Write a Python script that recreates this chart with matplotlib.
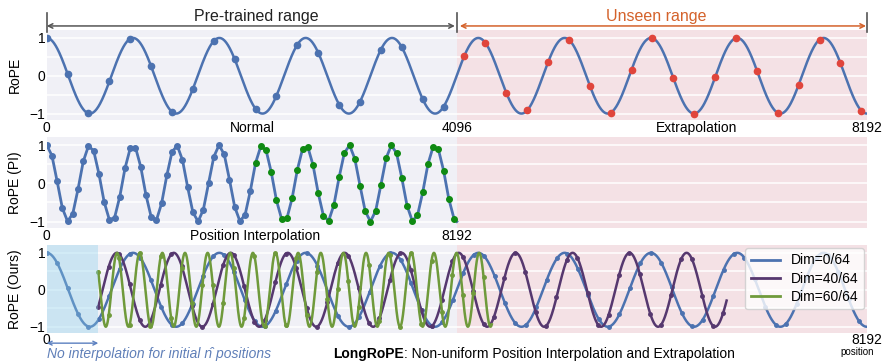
import numpy as np
import matplotlib
matplotlib.use("Agg")
import matplotlib.pyplot as plt

plt.rcParams['font.family'] = ['Liberation Sans', 'DejaVu Sans']

# ---- values ----
ctx_len = 8192          # extended context
train_len = 4096        # pre-trained context
rope_period = 862       # period of the plotted RoPE curve, in positions
top_dot_step = 208.6    # spacing of the dots on the top curve
n_top_dots = 40
pi_dot_step = 104.3     # spacing of the dots on the PI curve
n_pi_dots = 79
ours_dot_step = 104
n_hat = 515             # first positions kept without interpolation

ours_names = ['Dim=0/64', 'Dim=40/64', 'Dim=60/64']
ours_colors = ['#4C72B0', '#56386F', '#6F9A3B']
ours_start = [0, 515, 515]
ours_end = [8192, 6790, 4445]
ours_period = [862, 569, 226]
ours_peak = [0, 700, 4093]

lav = '#F0F0F6'
pink = '#F4E1E5'
blue = '#4C72B0'
red = '#E0453C'
green = '#0F8A12'
orange = '#D4622B'


def rope(x, period, peak=0):
    return np.cos(2 * np.pi * (np.asarray(x) - peak) / period)


def style(ax, xmax, split):
    ax.set_facecolor(lav)
    ax.axvspan(split, xmax, color=pink, lw=0, zorder=0)
    for g in [-1, -0.5, 0, 0.5, 1]:
        ax.axhline(g, color='white', lw=1.1, zorder=1)
    ax.set_xlim(0, xmax)
    ax.set_ylim(-1.17, 1.21)
    ax.set_yticks([-1, 0, 1])
    for s in ax.spines.values():
        s.set_visible(False)
    ax.tick_params(length=0, labelsize=10, pad=1)
    ax.yaxis.set_label_coords(-0.03, 0.5)


fig = plt.figure(figsize=(8.83, 3.62), dpi=100)
ax1 = fig.add_axes([0.0529, 0.6685, 0.929, 0.2486])
ax2 = fig.add_axes([0.0529, 0.3700, 0.929, 0.2514])
ax3 = fig.add_axes([0.0529, 0.0800, 0.929, 0.2430])

# ---- top: normal / extrapolation ----
style(ax1, ctx_len, train_len)
xs = np.linspace(0, ctx_len, 2000)
ax1.plot(xs, rope(xs, rope_period), color=blue, lw=1.8, zorder=3)
dots = np.arange(n_top_dots) * top_dot_step
seen = dots < train_len
ax1.plot(dots[seen], rope(dots[seen], rope_period), 'o', color=blue, ms=4.5, zorder=4)
ax1.plot(dots[~seen], rope(dots[~seen], rope_period), 'o', color=red, ms=4.5, zorder=4)
ax1.set_xticks([0, train_len, ctx_len])
ax1.set_xticklabels(['0', '4096', '8192'])
ax1.set_ylabel('RoPE', fontsize=10)
ax1.text(2050, -0.015, 'Normal', transform=ax1.get_xaxis_transform(),
         ha='center', va='top', fontsize=10)
ax1.text(6490, -0.015, 'Extrapolation', transform=ax1.get_xaxis_transform(),
         ha='center', va='top', fontsize=10)

# range arrows above the top panel
tr = ax1.get_xaxis_transform()
ax1.annotate('', xy=(0, 1.045), xytext=(train_len - 20, 1.045), xycoords=tr,
             arrowprops=dict(arrowstyle='<->', color='#555555', lw=1.1,
                             shrinkA=0, shrinkB=0, mutation_scale=8))
ax1.annotate('', xy=(train_len + 30, 1.045), xytext=(ctx_len - 10, 1.045), xycoords=tr,
             arrowprops=dict(arrowstyle='<->', color=orange, lw=1.1,
                             shrinkA=0, shrinkB=0, mutation_scale=8))
for xb in [0, train_len, ctx_len]:
    ax1.plot([xb, xb], [0.98, 1.19], color='#555555', lw=1.2, transform=tr, clip_on=False)
ax1.text(2090, 1.155, 'Pre-trained range', transform=tr, ha='center', va='center',
         fontsize=11.5, color='#222222')
ax1.text(6085, 1.155, 'Unseen range', transform=tr, ha='center', va='center',
         fontsize=11.5, color=orange)

# ---- middle: position interpolation ----
style(ax2, 2 * ctx_len, ctx_len)
pd = np.arange(n_pi_dots) * pi_dot_step
px = np.append(pd, ctx_len)
ax2.plot(px, rope(px, rope_period), color=blue, lw=2, zorder=3)
first = pd < ctx_len / 2
ax2.plot(pd[first], rope(pd[first], rope_period), 'o', color=blue, ms=4, zorder=4)
ax2.plot(pd[~first], rope(pd[~first], rope_period), 'o', color=green, ms=4, zorder=4)
ax2.set_xticks([0, ctx_len])
ax2.set_xticklabels(['0', '8192'])
ax2.set_ylabel('RoPE (PI)', fontsize=10)
ax2.text(4160, -0.015, 'Position Interpolation', transform=ax2.get_xaxis_transform(),
         ha='center', va='top', fontsize=10)

# ---- bottom: LongRoPE ----
style(ax3, ctx_len, train_len)
ax3.tick_params(axis='x', pad=0)
for name, c, s, e, per, pk in zip(ours_names, ours_colors, ours_start, ours_end,
                                  ours_period, ours_peak):
    xx = np.linspace(s, e, 2500)
    ax3.plot(xx, rope(xx, per, pk), color=c, lw=1.8, zorder=3, label=name)
    md = np.arange(s, e, ours_dot_step)
    ax3.plot(md, rope(md, per, pk), 'o', color=c, ms=2.5, zorder=3)
ax3.axvspan(0, n_hat, color='#87CEEB', alpha=0.35, lw=0, zorder=5)
ax3.set_xticks([0, ctx_len])
ax3.set_xticklabels(['0', '8192'])
ax3.set_ylabel('RoPE (Ours)', fontsize=10)
leg = ax3.legend(loc='upper right', fontsize=10, handlelength=2.1, framealpha=0.8,
                 borderpad=0.4, labelspacing=0.3, borderaxespad=0.2)
leg.set_zorder(6)
for h in leg.get_lines():
    h.set_linewidth(2)

tr3 = ax3.get_xaxis_transform()
ax3.annotate('', xy=(0, -0.115), xytext=(n_hat, -0.115), xycoords=tr3,
             arrowprops=dict(arrowstyle='<->', color='#5B80C0', lw=1.0,
                             shrinkA=0, shrinkB=0, mutation_scale=7))
ax3.text(0, -0.24, 'No interpolation for initial n\u0302 positions', transform=tr3,
         ha='left', va='center', fontsize=10, style='italic', color='#5F7FB8')
t1 = ax3.text(2860, -0.24, 'LongRoPE', transform=tr3, ha='left', va='center',
              fontsize=10, fontweight='bold')
ax3.annotate(': Non-uniform Position Interpolation and Extrapolation', xy=(1, 0),
             xycoords=t1, ha='left', va='bottom', fontsize=10)
ax3.text(8090, -0.215, 'position', transform=tr3, ha='center', va='center', fontsize=7)

fig.savefig('out.png', dpi=100)
